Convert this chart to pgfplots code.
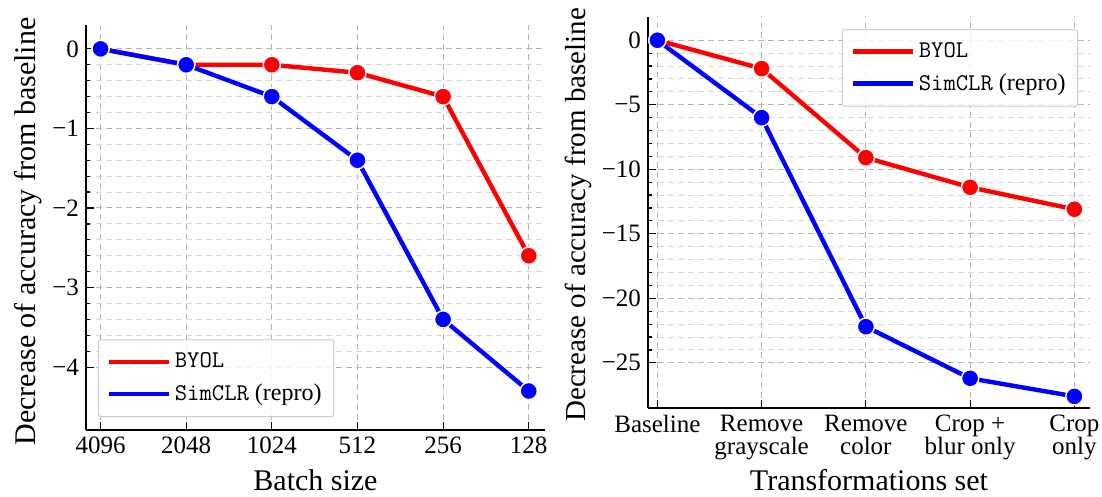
\documentclass[border=0pt]{standalone}
\usepackage{fontspec}
\setmainfont{Liberation Serif}
\usepackage{pgfplots}
\pgfplotsset{compat=1.18}
\definecolor{majgrid}{HTML}{B4B4B4}
\definecolor{mingrid}{HTML}{D8D8D8}
\definecolor{legframe}{HTML}{CCCCCC}
\pgfplotsset{
  myaxis/.style={
    scale only axis,
    anchor=south west,
    axis lines=left,
    axis line style={-, line width=0.9pt, black},
    tick align=inside,
    major tick length=4pt,
    minor tick length=2.2pt,
    tick style={black, line width=0.6pt},
    grid=both,
    major grid style={dash pattern=on 3pt off 2pt, majgrid, line width=0.5pt},
    minor grid style={dash pattern=on 3pt off 2pt, mingrid, line width=0.5pt},
    minor x tick num=0,
    ticklabel style={font=\fontsize{12.5}{11.5}\selectfont},
    label style={font=\fontsize{15}{17}\selectfont},
    legend cell align=left,
    legend style={font=\fontsize{12}{14}\selectfont, draw=legframe, line width=0.5pt,
      fill=white, fill opacity=0.85, text opacity=1, rounded corners=1pt,
      row sep=2.5pt, inner xsep=4pt, inner ysep=4.5pt},
    legend image code/.code={\draw[#1, mark=none] (0pt,0pt) -- (26pt,0pt);
      \path (0pt,0pt) -- (30pt,0pt);},
  },
  byol/.style={red, line width=2.2pt, mark=*, mark size=4.3pt,
    mark options={fill=red, draw=white, line width=0.7pt}},
  simclr/.style={blue, line width=2.2pt, mark=*, mark size=4.3pt,
    mark options={fill=blue, draw=white, line width=0.7pt}},
}
\begin{document}
\begin{tikzpicture}
\useasboundingbox (0,0) rectangle (551pt,248.5pt);
\begin{axis}[myaxis,
  at={(43pt,33.5pt)}, width=229.5pt, height=202.5pt,
  xmin=-0.17, xmax=5.19, ymin=-4.79, ymax=0.3,
  xtick={0,1,2,3,4,5},
  xticklabels={4096,2048,1024,512,256,128},
  ytick={-4,-3,-2,-1,0},
  yticklabels={−4,−3,−2,−1,0},
  minor y tick num=4,
  xlabel={Batch size},
  ylabel={Decrease of accuracy from baseline},
  xlabel style={at={(axis description cs:0.5,-0.125)}, anchor=center},
  ylabel style={at={(axis description cs:-0.125,0.49)}, anchor=center},
  legend style={at={(0.026,0.032)}, anchor=south west},
]
\addplot[byol] coordinates {(0,0) (1,-0.2) (2,-0.2) (3,-0.3) (4,-0.6) (5,-2.6)};
\addlegendentry{{\ttfamily BYOL}}
\addplot[simclr] coordinates {(0,0) (1,-0.2) (2,-0.6) (3,-1.4) (4,-3.4) (5,-4.3)};
\addlegendentry{{\ttfamily SimCLR} (repro)}
\end{axis}
\begin{axis}[myaxis,
  at={(324pt,44.5pt)}, width=221pt, height=195.5pt,
  xmin=-0.09, xmax=4.15, ymin=-28.5, ymax=1.8,
  xtick={0,1,2,3,4},
  xticklabels={Baseline,Remove\\grayscale,Remove\\color,Crop +\\blur only,Crop\\only},
  xticklabel style={align=center, text depth=0pt},
  ytick={-25,-20,-15,-10,-5,0},
  yticklabels={−25,−20,−15,−10,−5,0},
  minor y tick num=4,
  xlabel={Transformations set},
  ylabel={Decrease of accuracy from baseline},
  xlabel style={at={(axis description cs:0.5,-0.184)}, anchor=center},
  ylabel style={at={(axis description cs:-0.157,0.494)}, anchor=center,
    font=\fontsize{14.5}{16}\selectfont},
  legend style={at={(0.973,0.969)}, anchor=north east},
]
\addplot[byol] coordinates {(0,0) (1,-2.2) (2,-9.1) (3,-11.4) (4,-13.1)};
\addlegendentry{{\ttfamily BYOL}}
\addplot[simclr] coordinates {(0,0) (1,-6.0) (2,-22.2) (3,-26.2) (4,-27.6)};
\addlegendentry{{\ttfamily SimCLR} (repro)}
\end{axis}
\end{tikzpicture}
\end{document}
